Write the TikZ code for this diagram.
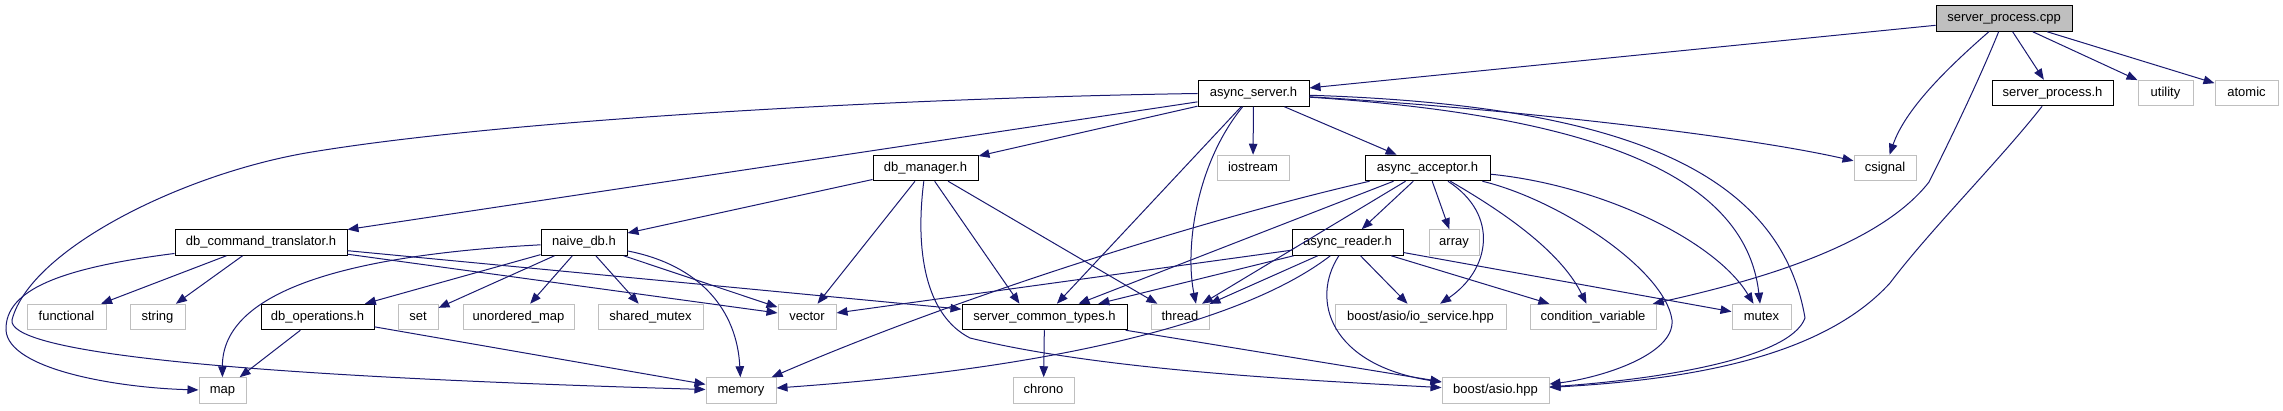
\documentclass[tikz,border=0pt]{standalone}
\usepackage{fontspec}
\setmainfont{Liberation Sans}
\usetikzlibrary{arrows.meta,calc}
\definecolor{edgeblue}{HTML}{191970}
\definecolor{sysgrey}{HTML}{BFBFBF}
\definecolor{rootfill}{HTML}{BFBFBF}
\begin{document}
\begin{tikzpicture}[x=1pt,y=-1pt,
  base/.style={rectangle, inner sep=0pt, minimum height=25.5pt, line width=1pt,
    font=\fontsize{13}{15}\selectfont, text height=9.6pt, text depth=2.8pt},
  doc/.style={base, draw=black, fill=white},
  sys/.style={base, draw=sysgrey, fill=white},
  root/.style={base, draw=black, fill=rootfill},
  dep/.style={draw=edgeblue, line width=1pt, -{Triangle[length=11pt,width=8.5pt]}}]
\useasboundingbox (0,0) rectangle (2283,411);

% nodes
\node[root, minimum width=136] (spcpp) at (2004,18.5) {server\_process.cpp};
\node[doc, minimum width=111] (asrv) at (1253.5,93.5) {async\_server.h};
\node[doc, minimum width=121] (sph) at (2052.5,93) {server\_process.h};
\node[sys, minimum width=55] (utility) at (2165.5,93) {utility};
\node[sys, minimum width=63] (atomic) at (2246.5,93) {atomic};
\node[doc, minimum width=105] (dbm) at (925.5,168) {db\_manager.h};
\node[sys, minimum width=72] (iostream) at (1253,168) {iostream};
\node[doc, minimum width=125] (acc) at (1427.5,168) {async\_acceptor.h};
\node[sys, minimum width=62] (csignal) at (1885,168) {csignal};
\node[doc, minimum width=172] (dbct) at (261,242.5) {db\_command\_translator.h};
\node[doc, minimum width=86] (naive) at (584,242.5) {naive\_db.h};
\node[doc, minimum width=111] (reader) at (1347.5,242.5) {async\_reader.h};
\node[sys, minimum width=50] (array) at (1454,242.5) {array};
\node[sys, minimum width=79] (functional) at (66.5,317) {functional};
\node[sys, minimum width=55] (string) at (157.5,317) {string};
\node[doc, minimum width=113] (dbops) at (317.5,317) {db\_operations.h};
\node[sys, minimum width=40] (set) at (418,317) {set};
\node[sys, minimum width=111] (umap) at (518.5,317) {unordered\_map};
\node[sys, minimum width=105] (smutex) at (650.5,317) {shared\_mutex};
\node[sys, minimum width=58] (vector) at (807,317) {vector};
\node[doc, minimum width=165] (sct) at (1044.5,317) {server\_common\_types.h};
\node[sys, minimum width=58] (thread) at (1180,317) {thread};
\node[sys, minimum width=171] (ios) at (1420.5,317) {boost/asio/io\_service.hpp};
\node[sys, minimum width=126] (cv) at (1593,317) {condition\_variable};
\node[sys, minimum width=59] (mutex) at (1761.5,317) {mutex};
\node[sys, minimum width=47] (map) at (222.5,390.5) {map};
\node[sys, minimum width=70] (memory) at (741,390.5) {memory};
\node[sys, minimum width=61] (chrono) at (1043.5,390.5) {chrono};
\node[sys, minimum width=107] (asio) at (1495.5,390.5) {boost/asio.hpp};

% server_process.cpp
\draw[dep] (spcpp) -- (asrv);
\draw[dep] (spcpp) .. controls (1945,70) and (1905,110) .. (csignal);
\draw[dep] (spcpp) .. controls (1975,90) and (1940,160) .. (1929,182) .. controls (1880,245) and (1760,280) .. (cv);
\draw[dep] (spcpp) -- (sph);
\draw[dep] (spcpp) -- (utility);
\draw[dep] (spcpp) -- (atomic);

% async_server.h
\draw[dep] (asrv) -- (dbct);
\draw[dep] (asrv) -- (dbm);
\draw[dep] (asrv) -- (iostream);
\draw[dep] (asrv) -- (acc);
\draw[dep] (asrv) -- (sct);
\draw[dep] (asrv) .. controls (1195,165) and (1185,250) .. ($(thread.north)+(16,0)$);
\draw[dep] (asrv) .. controls (1500,108) and (1740,135) .. (csignal);
\draw[dep] (asrv) .. controls (1580,115) and (1745,170) .. (mutex);
\draw[dep] (asrv) .. controls (1620,105) and (1780,170) .. (1805,318) .. controls (1790,360) and (1650,380) .. (asio);
\draw[dep] (asrv.west) .. controls (900,98) and (500,120) .. (306,153) .. controls (180,175) and (30,250) .. (12,320) .. controls (8,350) and (200,375) .. (memory);

% server_process.h
\draw[dep] (sph) .. controls (2000,160) and (1930,230) .. (1890,283) .. controls (1820,360) and (1680,380) .. (asio);

% db_command_translator.h
\draw[dep] (dbct) -- (functional);
\draw[dep] (dbct) -- (string);
\draw[dep] (dbct) .. controls (60,268) and (5,290) .. (6,330) .. controls (8,370) and (120,388) .. (map);
\draw[dep] (dbct) -- (vector);
\draw[dep] (dbct) -- (sct);

% db_manager.h
\draw[dep] (dbm) -- (naive);
\draw[dep] (dbm) -- (vector);
\draw[dep] (dbm) .. controls (915,250) and (925,315) .. (970,338) .. controls (1100,370) and (1300,380) .. (asio);
\draw[dep] (dbm) -- ($(sct.north)+(-25,0)$);
\draw[dep] (dbm) -- (thread);

% naive_db.h
\draw[dep] (naive) .. controls (350,255) and (222,290) .. (map);
\draw[dep] (naive) -- (dbops);
\draw[dep] (naive) -- (set);
\draw[dep] (naive) -- (umap);
\draw[dep] (naive) -- (smutex);
\draw[dep] (naive) -- (vector);
\draw[dep] (naive) .. controls (700,265) and (737,310) .. (memory);

% db_operations.h
\draw[dep] (dbops) -- (map);
\draw[dep] (dbops) -- (memory);

% async_acceptor.h
\draw[dep] (acc) .. controls (1200,220) and (950,300) .. (memory);
\draw[dep] (acc) -- (sct);
\draw[dep] (acc) -- (thread);
\draw[dep] (acc) -- (reader);
\draw[dep] (acc) -- (array);
\draw[dep] (acc) .. controls (1500,215) and (1490,270) .. (ios);
\draw[dep] (acc) .. controls (1500,210) and (1560,250) .. (cv);
\draw[dep] (acc) .. controls (1600,185) and (1715,240) .. (mutex);
\draw[dep] (acc) .. controls (1560,200) and (1665,270) .. (1672,320) .. controls (1675,355) and (1600,378) .. (asio);

% async_reader.h
\draw[dep] (reader) -- (vector);
\draw[dep] (reader) -- (sct);
\draw[dep] (reader) -- (thread);
\draw[dep] (reader) .. controls (1310,300) and (1330,365) .. (asio);
\draw[dep] (reader) .. controls (1260,310) and (1100,365) .. (memory);
\draw[dep] (reader) -- (ios);
\draw[dep] (reader) -- (cv);
\draw[dep] (reader) -- (mutex);

% server_common_types.h
\draw[dep] (sct) -- (chrono);
\draw[dep] (sct) -- (asio);
\end{tikzpicture}
\end{document}
